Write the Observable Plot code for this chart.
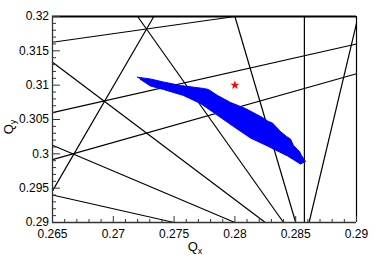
<!DOCTYPE html>
<html><head><meta charset="utf-8">
<script src="https://cdn.jsdelivr.net/npm/d3@7"></script>
<script src="https://cdn.jsdelivr.net/npm/@observablehq/plot@0.6"></script>
<style>body{margin:0;background:#fff}</style>
</head><body><div id="chart"></div>
<script>
// Axis ticks
const xTicks = [0.265, 0.27, 0.275, 0.28, 0.285, 0.29];
const yTicks = [0.29, 0.295, 0.3, 0.305, 0.31, 0.315, 0.32];
const xMinorTicks = [0.266,0.267,0.268,0.269,0.271,0.272,0.273,0.274,0.276,0.277,0.278,0.279,0.281,0.282,0.283,0.284,0.286,0.287,0.288,0.289];
const yMinorTicks = [0.291,0.292,0.293,0.294,0.296,0.297,0.298,0.299,0.301,0.302,0.303,0.304,0.306,0.307,0.308,0.309,0.311,0.312,0.313,0.314,0.316,0.317,0.318,0.319];

// Resonance lines (segment endpoints in tune space)
const lineNames  = ["7Qx=2","6Qx+Qy=2","5Qx+2Qy=2","4Qx+3Qy=2","3Qx+4Qy=2","2Qx+5Qy=2","-Qx+4Qy=1","-2Qx+5Qy=1","-3Qx+6Qy=1","6Qx-2Qy=1","steep right"];
const lineStartQx = [0.285714, 0.285, 0.284, 0.2825, 0.28, 0.275, 0.265, 0.265, 0.265, 0.265, 0.2861];
const lineStartQy = [0.29, 0.29, 0.29, 0.29, 0.29, 0.29, 0.31625, 0.306, 0.299167, 0.2946, 0.29];
const lineEndQx   = [0.285714, 0.28, 0.272, 0.265, 0.265, 0.265, 0.28, 0.29, 0.29, 0.273333, 0.29];
const lineEndQy   = [0.32, 0.32, 0.32, 0.313333, 0.30125, 0.294, 0.32, 0.316, 0.311667, 0.32, 0.319];

// Tune footprint outline
const footQx = [0.27197,0.27306,0.27413,0.27553,0.27742,0.27783,0.27857,0.27964,0.28087,0.28227,0.28276,0.28309,0.28375,0.28424,0.28457,0.28482,0.28515,0.28531,0.28548,0.28581,
                0.28539,0.28433,0.28268,0.28128,0.27989,0.27824,0.27717,0.27577,0.27413,0.27306,0.27224];
const footQy = [0.31116,0.3109,0.31046,0.30995,0.30952,0.30937,0.3085,0.30748,0.3066,0.30529,0.30471,0.30449,0.30325,0.30253,0.30216,0.30121,0.30063,0.30034,0.29976,0.29888,
                0.29852,0.29969,0.30114,0.30231,0.30398,0.30602,0.30733,0.3085,0.30937,0.30988,0.31083];

// Working point
const wpQx = [0.28];
const wpQy = [0.31];

const segments = lineNames.map((n, i) => ({name: n, x1: lineStartQx[i], y1: lineStartQy[i], x2: lineEndQx[i], y2: lineEndQy[i]}));
const footprint = footQx.map((q, i) => ({qx: q, qy: footQy[i]}));
const wp = wpQx.map((q, i) => ({qx: q, qy: wpQy[i]}));

const W = 382, H = 260, mL = 52, mR = 26, mT = 16, mB = 38;
const pw = W - mL - mR, ph = H - mT - mB;
const font = "'Liberation Sans', Arial, Helvetica, sans-serif";
const fmt = d => String(d);

const svg = Plot.plot({
  width: W, height: H,
  marginLeft: mL, marginRight: mR, marginTop: mT, marginBottom: mB,
  x: {domain: [0.265, 0.29], label: null},
  y: {domain: [0.29, 0.32], label: null},
  style: {fontFamily: font, fontSize: "12px", color: "#000", background: "#fff"},
  marks: [
    Plot.link(segments, {x1: "x1", y1: "y1", x2: "x2", y2: "y2", stroke: "#000", strokeWidth: 1.2}),
    Plot.line(footprint, {x: "qx", y: "qy", fill: "#0000ff", stroke: "#0000ff", strokeWidth: 1}),
    Plot.dot(wp, {x: "qx", y: "qy", symbol: "star", r: 2.9, fill: "#ff0000", stroke: "none"}),
    Plot.ruleY([0.32], {stroke: "#000", strokeWidth: 2}),
    Plot.ruleX([0.29], {stroke: "#000", strokeWidth: 1.2}),
    Plot.ruleX([0.265], {stroke: "#333", strokeWidth: 1.3}),
    Plot.ruleY([0.29], {stroke: "#333", strokeWidth: 1.3}),
    Plot.tickX(xTicks, {x: d => d, insetTop: ph - 6, stroke: "#333"}),
    Plot.tickX(xMinorTicks, {x: d => d, insetTop: ph - 3, stroke: "#333"}),
    Plot.tickY(yTicks, {y: d => d, insetRight: pw - 8, stroke: "#333"}),
    Plot.tickY(yMinorTicks, {y: d => d, insetRight: pw - 4, stroke: "#333"}),
    Plot.axisX(xTicks, {tickSize: 0, tickPadding: 7, tickFormat: fmt, label: null, fontSize: 12}),
    Plot.axisY(yTicks, {tickSize: 0, tickPadding: 3.5, tickFormat: fmt, label: null, fontSize: 12})
  ]
});

const s = d3.select(svg);
const tx = s.append("text").attr("x", 195).attr("y", 251).attr("font-size", 13).attr("font-family", font).attr("fill", "#000");
tx.append("tspan").text("Q");
tx.append("tspan").attr("font-size", 9).attr("dy", 2.5).text("x");
const ty = s.append("text").attr("transform", "translate(13,127) rotate(-90)").attr("font-size", 13).attr("font-family", font).attr("fill", "#000");
ty.append("tspan").text("Q");
ty.append("tspan").attr("font-size", 9).attr("dy", 2.5).text("y");

document.getElementById("chart").appendChild(svg);
</script>
</body></html>
